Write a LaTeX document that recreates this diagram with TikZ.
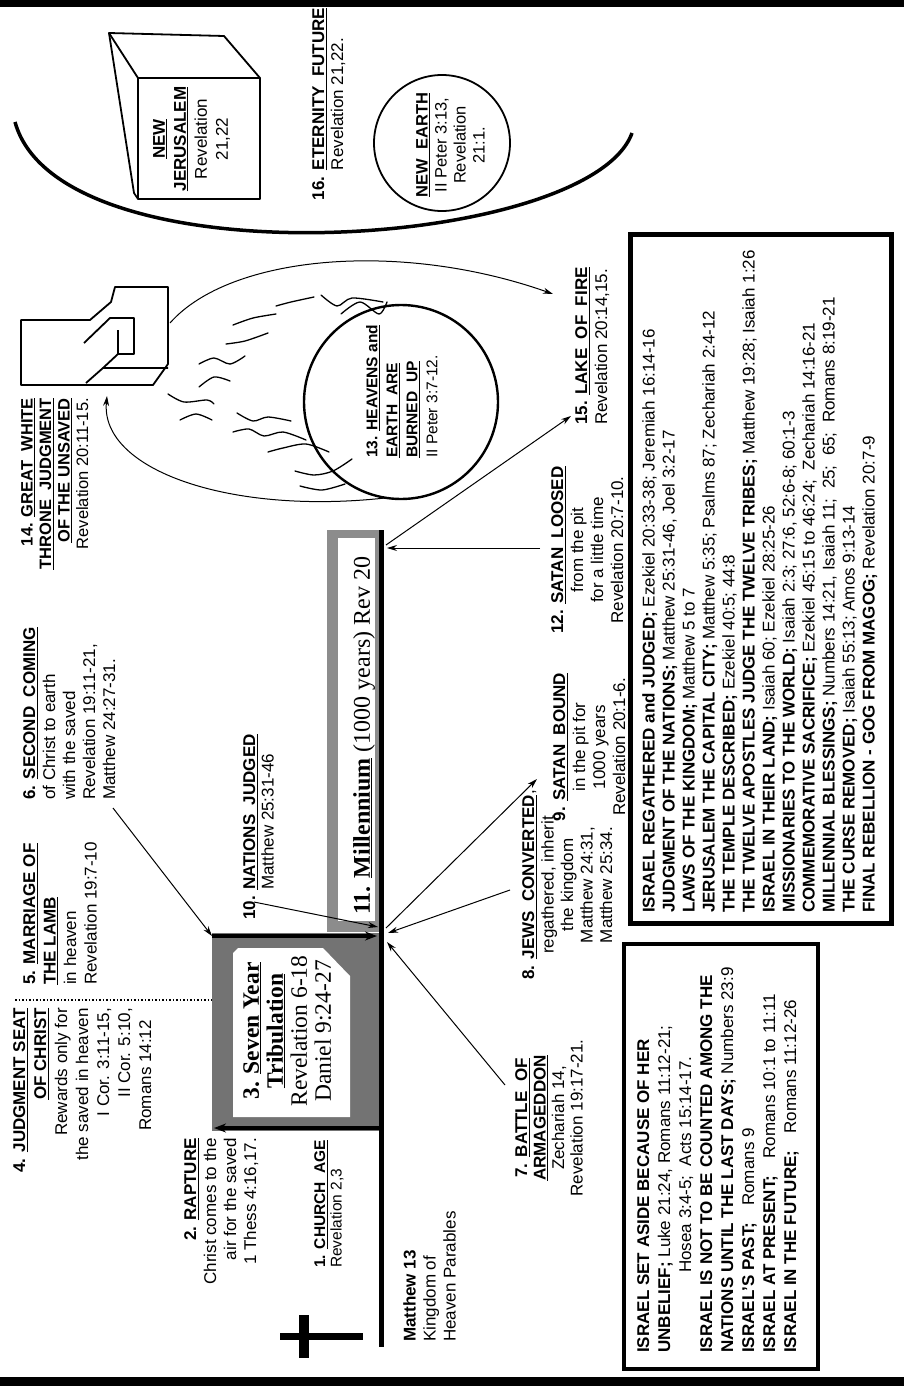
\documentclass[tikz,border=0pt]{standalone}
\usepackage{fontspec}
\setmainfont{Liberation Sans}
\newfontfamily\serf{Liberation Serif}
\usetikzlibrary{arrows.meta}
\newcommand\myul[1]{\setbox0\hbox{#1}\rlap{\rule[-2.6pt]{\wd0}{1.1pt}}\box0}
\begin{document}
\begin{tikzpicture}[x=1pt,y=-1pt]
\tikzset{
 lbl/.style={rotate=90, inner sep=0pt, font=\fontsize{17}{20.5}\selectfont},
 ser/.style={rotate=90, inner sep=0pt, font=\serf\fontsize{24}{24}\selectfont},
 arr/.style={-{Stealth[length=10pt,width=6pt]}, line width=1pt},
 thk/.style={line width=3.5pt, -{Stealth[length=12pt,width=9pt]}},
 flame/.style={line width=1.3pt, line cap=round},
 thr/.style={line width=1.8pt, line join=round},
 shade/.style={fill=black!55},
 boxline/.style={line width=4.5pt},
}
\useasboundingbox (0,0) rectangle (904,1386);
\fill[white] (0,0) rectangle (904,1386);
\fill (0,0) rectangle (904,7);
\fill (0,1377) rectangle (904,1386);

% eternity arc
\draw[line width=3.5pt] (15,122) .. controls (60,285) and (590,250) .. (632,133);

% new Jerusalem cube
\draw[thr] (109,33) -- (224,36) -- (260,78) -- (260,199) -- (138,199) -- (134,193) -- cycle;
\draw[thr] (109,33) -- (138,78) -- (260,78);
\draw[thr] (138,78) -- (138,199);
\node[lbl, anchor=north, align=center, font=\fontsize{17}{21}\selectfont] (nj) at (153,139)
 {\textbf{\myul{NEW}}\\ \textbf{\myul{JERUSALEM}}\\ Revelation\\ 21,22};

% new earth
\node[circle, draw, line width=1.8pt, minimum size=136pt, inner sep=0pt] (earth) at (442,143) {};
\node[lbl, anchor=north, align=center, font=\fontsize{16.5}{19}\selectfont] (ne) at (416,145)
 {\textbf{\myul{NEW\ \ EARTH}}\\ II Peter 3:13,\\ Revelation\\ 21:1.};

\node[lbl, anchor=north, align=center, font=\fontsize{17}{19}\selectfont] (b16) at (312,104)
 {\textbf{16. \myul{ETERNITY\ \ FUTURE}}\\ Revelation 21,22.};

% throne
\draw[thr] (21,320) -- (90,320) -- (111,302) -- (115,287) -- (168,287) -- (168,364) -- (153,385) -- (21,385) -- cycle;
\draw[thr] (84,343) -- (110,318) -- (134,318) -- (134,354) -- (118,354) -- (118,330);
\draw[thr] (86,383) -- (103,368) -- (168,368);
\draw[thr] (118,354) -- (103,368);

% flames
\draw[flame] plot[smooth] coordinates {(199,387) (214,377) (230,381)};
\draw[flame] plot[smooth] coordinates {(168,394) (184,402) (207,400) (214,404)};
\draw[flame] plot[smooth] coordinates {(199,364) (214,358) (230,364) (245,356)};
\draw[flame] plot[smooth] coordinates {(226,344) (245,341) (268,333)};
\draw[flame] plot[smooth] coordinates {(233,325) (253,318) (276,314)};
\draw[flame] plot[smooth] coordinates {(276,306) (291,302) (314,297)};
\draw[flame] plot[smooth] coordinates {(321,295) (337,306) (352,298) (383,302)};
\draw[flame] plot[smooth] coordinates {(341,314) (360,302) (379,314) (387,302)};
\draw[flame] plot[smooth] coordinates {(237,413) (253,421) (268,417) (291,421)};
\draw[flame] plot[smooth] coordinates {(233,432) (249,429) (264,436) (283,432) (306,440)};
\draw[flame] plot[smooth] coordinates {(268,452) (283,448) (306,444) (329,452)};
\draw[flame] plot[smooth] coordinates {(295,471) (314,475) (333,471) (352,459)};
\draw[flame] plot[smooth] coordinates {(180,420) (196,414) (212,420)};
\draw[flame] plot[smooth] coordinates {(300,486) (322,490) (345,484)};

% heavens and earth circle
\node[circle, draw, line width=2.4pt, minimum size=194pt, inner sep=0pt] (c13) at (401,402) {};
\node[lbl, anchor=north west, align=left, font=\fontsize{15.5}{20}\selectfont] (b13) at (366,458)
 {\textbf{13. \myul{HEAVENS and}}\\ \textbf{\myul{EARTH\ \ ARE}}\\ \textbf{\myul{BURNED\ \ UP}}\\ II Peter 3:7-12.};

\node[lbl, anchor=north east, align=right, font=\fontsize{16.5}{18.5}\selectfont] (b14) at (21,398)
 {\textbf{14. \myul{GREAT\ \ WHITE}}\\ \textbf{\myul{THRONE\ \ JUDGMENT}}\\ \textbf{\myul{OF THE UNSAVED}}\\ Revelation 20:11-15.};

% millennium box
\fill[black!45] (327,530) rectangle (383,932);
\fill[white] (338,538) rectangle (375,921);
% tribulation box
\fill[shade] (212,933) rectangle (383,1131);
\fill[white] (233,953) -- (238,948) -- (323,948) -- (350,976) -- (350,1117) -- (233,1117) -- cycle;
% timeline
\draw[line width=5pt] (381,530) -- (381,1347);
% cross
\fill (280,1333) rectangle (363,1340);
\fill (299,1315) rectangle (309,1358);

% dotted line
\draw[line width=1.3pt, dash pattern=on 1.5pt off 2pt] (15,1000) -- (212,1000);

% coordinates
\coordinate (s6) at (113,808);
\coordinate (tl) at (212,936);
\coordinate (tr) at (377,936);
\coordinate (br) at (381,1128);
\coordinate (bl) at (214,1128);
\coordinate (s10) at (254,902);
\coordinate (j10) at (378,927);
\coordinate (s7) at (505,1085);
\coordinate (j7) at (387,942);
\coordinate (s8) at (510,890);
\coordinate (j8) at (388,933);
\coordinate (j9) at (386,928);
\coordinate (e9) at (537,779);
\coordinate (topm) at (386,545);
\coordinate (s12) at (540,548);
\coordinate (t12) at (387,548);
\coordinate (e15) at (571,416);
\coordinate (thrs) at (170,323);
\coordinate (e15b) at (553,294);
\coordinate (c13s) at (385,498);
\coordinate (thrb) at (107,396);

\draw[arr] (s6) -- (tl);
\draw[thk] (tl) -- (tr);
\draw[thk] (br) -- (bl);
\draw[arr] (s10) -- (j10);
\draw[arr] (s7) -- (j7);
\draw[arr] (s8) -- (j8);
\draw[arr] (j9) -- (e9);
\draw[arr] (s12) -- (t12);
\draw[arr] (topm) -- (e15);
\draw[arr] (thrs) .. controls (230,255) and (400,240) .. (e15b);
\draw[arr] (c13s) .. controls (230,515) and (100,470) .. (thrb);

% labels
\node[lbl, anchor=north east, align=right, font=\fontsize{17}{21}\selectfont] (b4) at (13,1008)
 {\textbf{4. \myul{JUDGMENT SEAT}}\\ \textbf{\myul{OF CHRIST}}\hspace*{12pt}\\ Rewards only for\hspace*{12pt}\\ the saved in heaven\hspace*{12pt}\\ I Cor. 3:11-15,\hspace*{50pt}\\ II Cor. 5:10,\hspace*{50pt}\\ Romans 14:12\hspace*{12pt}};

\node[lbl, anchor=north west, align=left, font=\fontsize{17}{20.5}\selectfont] (b5) at (23,985)
 {\textbf{5. \myul{MARRIAGE OF}}\\ \textbf{\myul{THE LAMB}}\\ in heaven\\ Revelation 19:7-10};

\node[lbl, anchor=north west, align=left, font=\fontsize{17}{20}\selectfont] (b6) at (23,800)
 {\textbf{6. \myul{SECOND\ \ COMING}}\\ of Christ to earth\\ with the saved\\ Revelation 19:11-21,\\ Matthew 24:27-31.};

\node[lbl, anchor=north east, align=right, font=\fontsize{17}{20}\selectfont] (b2) at (184,1138)
 {\textbf{2. \myul{RAPTURE}}\\ Christ comes to the\\ air for the saved\\ 1 Thess 4:16,17.};

\node[lbl, anchor=north west, align=left, font=\fontsize{15.5}{16.5}\selectfont] (b1) at (314,1268)
 {\textbf{1. \myul{CHURCH\ \ AGE}}\\ Revelation 2,3};

\node[ser, anchor=north, align=center, font=\serf\fontsize{23.5}{24}\selectfont] (b3) at (243,1031)
 {\textbf{3. \myul{Seven Year}}\\ \textbf{\myul{Tribulation}}\\ Revelation 6-18\\ Daniel 9:24-27};

\node[lbl, anchor=north west, align=left, font=\fontsize{17}{18.5}\selectfont] (b10) at (243,920)
 {\textbf{10. \myul{NATIONS\ \ JUDGED}}\\ \hphantom{\textbf{10. }}Matthew 25:31-46};

\node[ser, anchor=north west] (b11) at (353,915)
 {\textbf{11. \myul{Millennium}} (1000 years) Rev 20};

\node[lbl, anchor=north, align=center, font=\fontsize{17}{18.5}\selectfont] (b7) at (515,1118)
 {\textbf{7. \myul{BATTLE\ \ OF}}\\ \textbf{\myul{ARMAGEDDON}}\\ Zechariah 14,\\ Revelation 19:17-21.};

\node[lbl, anchor=north, align=center, font=\fontsize{17}{19.5}\selectfont] (b8) at (522,885)
 {\textbf{8. \myul{JEWS\ \ CONVERTED}},\\ regathered, inherit\\ the kingdom\\ Matthew 24:31,\\ Matthew 25:34.};

\node[lbl, anchor=north, align=center, font=\fontsize{17}{20}\selectfont] (b9) at (553,747)
 {\textbf{9. \myul{SATAN\ \ BOUND}}\\ in the pit for\\ 1000 years\\ Revelation 20:1-6.};

\node[lbl, anchor=north, align=center, font=\fontsize{17}{20}\selectfont] (b12) at (551,550)
 {\textbf{12. \myul{SATAN\ \ LOOSED}}\\ from the pit\\ for a little time\\ Revelation 20:7-10.};

\node[lbl, anchor=north west, align=left, font=\fontsize{17}{20}\selectfont] (b15) at (575,425)
 {\textbf{15. \myul{LAKE\ \ OF\ \ FIRE}}\\ Revelation 20:14,15.};

\node[lbl, anchor=north west, align=left, font=\fontsize{17}{20}\selectfont] (m13) at (403,1342)
 {\textbf{Matthew 13}\\ Kingdom of\\ Heaven Parables};

% big box
\draw[line width=5pt] (630,234) rectangle (891,923);
\node[lbl, anchor=north west, align=left, font=\fontsize{17}{20}\selectfont] (bigtext) at (642,913)
 {\textbf{ISRAEL REGATHERED and JUDGED;} Ezekiel 20:33-38; Jeremiah 16:14-16\\
  \textbf{JUDGMENT OF THE NATIONS;} Matthew 25:31-46, Joel 3:2-17\\
  \textbf{LAWS OF THE KINGDOM;} Matthew 5 to 7\\
  \textbf{JERUSALEM THE CAPITAL CITY;} Matthew 5:35; Psalms 87; Zechariah 2:4-12\\
  \textbf{THE TEMPLE DESCRIBED;} Ezekiel 40:5; 44:8\\
  \textbf{THE TWELVE APOSTLES JUDGE THE TWELVE TRIBES;} Matthew 19:28; Isaiah 1:26\\
  \textbf{ISRAEL IN THEIR LAND;} Isaiah 60; Ezekiel 28:25-26\\
  \textbf{MISSIONARIES TO THE WORLD;} Isaiah 2:3; 27:6, 52:6-8; 60:1-3\\
  \textbf{COMMEMORATIVE SACRIFICE;} Ezekiel 45:15 to 46:24;\ \ Zechariah 14:16-21\\
  \textbf{MILLENNIAL BLESSINGS;} Numbers 14:21, Isaiah 11;\ \ 25;\ \ 65;\ \ Romans 8:19-21\\
  \textbf{THE CURSE REMOVED;} Isaiah 55:13; Amos 9:13-14\\
  \textbf{FINAL REBELLION - GOG FROM MAGOG;} Revelation 20:7-9};

% small box
\draw[boxline] (624,944) rectangle (818,1369);
\node[lbl, anchor=north west, align=left, font=\fontsize{17}{21}\selectfont] (smalltext) at (637,1353)
 {\textbf{ISRAEL SET ASIDE BECAUSE OF HER}\\
  \textbf{UNBELIEF;} Luke 21:24, Romans 11:12-21;\\
  \hspace*{80pt}Hosea 3:4-5;\ \ Acts 15:14-17.\\
  \textbf{ISRAEL IS NOT TO BE COUNTED AMONG THE}\\
  \textbf{NATIONS UNTIL THE LAST DAYS;} Numbers 23:9\\
  \textbf{ISRAEL'S PAST;}\quad Romans 9\\
  \textbf{ISRAEL AT PRESENT;}\quad Romans 10:1 to 11:11\\
  \textbf{ISRAEL IN THE FUTURE;}\quad Romans 11:12-26};
\end{tikzpicture}
\end{document}
